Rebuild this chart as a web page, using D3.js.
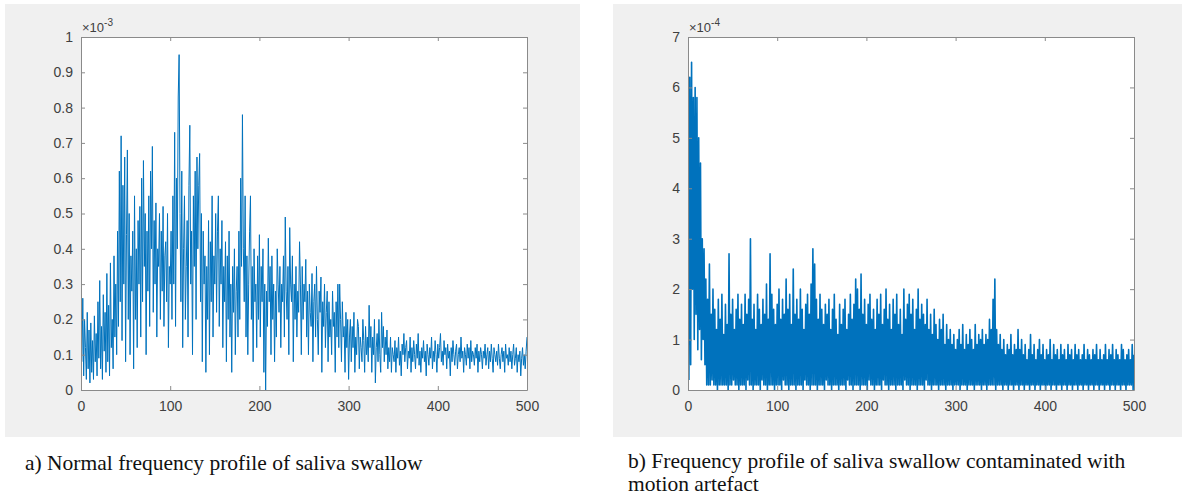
<!DOCTYPE html>
<html lang="en">
<head>
    <meta charset="utf-8">
    <title>Frequency profiles of saliva swallow</title>
    <script type="text/javascript" src="https://d3js.org/d3.v7.min.js"></script>
    <style>
        body { margin: 0; background: #ffffff; }
        svg { display: block; }
    </style>
</head>
<body>
    <script type="text/javascript">

        // x ticks shared by both plots
        var xTicks = [0, 100, 200, 300, 400, 500];

        // a) normal swallow, one value per frequency bin 1..500, in units of 1e-5
        var normalValues = [
            8,26,4,20,12,3,22,6,17,2, 19,5,14,3,21,8,16,4,25,9,
            31,6,18,3,27,11,22,5,33,8, 24,4,36,12,20,6,38,15,30,10,
            45,18,62,25,72,14,58,30,66,8, 44,68,20,50,10,38,28,45,6,55,
            20,40,12,48,30,52,15,60,25,65, 35,50,10,45,28,55,18,62,40,69,
            22,48,30,53,15,40,35,50,20,45, 28,52,18,38,42,25,50,12,35,30,
            45,20,55,30,73,18,60,40,83,95, 50,25,62,12,40,55,20,35,48,15,
            58,75,30,45,10,55,35,62,20,66, 40,58,67,25,50,8,45,30,38,5,
            35,20,48,10,42,25,55,15,38,30, 50,22,45,55,18,40,30,48,12,35,
            25,42,8,38,20,45,15,30,5,35, 22,40,10,28,35,15,45,20,60,35,
            78,40,25,55,15,38,10,30,45,55, 20,35,8,40,25,30,12,38,20,44,
            15,35,25,40,5,30,0,28,18,43, 25,35,10,38,20,30,8,28,15,40,
            30,22,35,12,30,25,38,15,49,28, 20,35,10,46,30,25,38,8,30,20,
            35,15,28,22,42,30,10,35,20,30, 25,37,15,28,10,30,22,18,33,8,
            25,30,15,35,20,10,28,22,32,5, 25,18,30,12,22,28,8,25,15,20,
            10,28,18,22,5,25,15,30,12,30, 20,8,25,15,18,5,22,12,20,3,
            15,20,8,18,12,22,5,15,10,20, 18,6,15,12,8,20,14,5,18,10,
            15,8,24,12,18,5,15,10,20,2, 12,16,8,20,10,5,22,12,18,8,
            15,10,17,6,12,8,15,5,12,10, 8,14,5,12,9,15,7,11,4,13,
            10,16,8,12,14,6,11,9,15,5, 12,8,14,10,6,13,9,16,7,11,
            5,12,9,14,8,11,4,13,10,7, 12,9,15,6,11,8,14,10,5,13,
            9,12,16,8,11,7,14,10,12,6, 13,9,11,4,12,8,14,10,7,11,
            13,6,10,12,8,15,9,11,5,12, 10,7,13,9,12,6,14,8,11,10,
            7,12,9,13,5,11,8,12,10,6, 11,9,13,7,10,12,6,11,8,13,
            9,5,12,10,8,11,7,13,9,6, 10,12,8,11,5,13,9,10,7,12,
            8,11,6,10,13,7,9,12,5,10, 8,11,4,9,12,7,10,6,11,15
        ];
        var normalYTicks = [0, 0.1, 0.2, 0.3, 0.4, 0.5, 0.6, 0.7, 0.8, 0.9, 1];

        // b) swallow with motion artefact, bins 1..500, in units of 1e-5
        var artefactValues = [
            2,62,5,65,20,58,10,60,15,58, 8,50,12,45,6,30,10,28,5,22,
            1,18,1,25,1,15,2,20,1,16, 1,12,0,18,1,14,1,19,1,11,
            1,17,1,13,0,27,1,15,1,18, 2,12,1,16,1,19,0,14,1,17,
            1,13,1,19,0,15,2,18,1,30, 1,14,0,17,1,12,1,19,1,16,
            0,13,2,18,1,15,1,21,0,14, 1,27,1,19,1,16,0,13,1,17,
            1,20,1,14,0,18,2,15,1,22, 1,16,0,19,1,13,1,24,1,15,
            0,18,1,14,1,20,1,16,0,12, 2,17,1,19,1,15,0,21,1,28,
            1,25,1,18,0,14,1,19,1,16, 1,13,0,17,2,15,1,18,1,12,
            0,16,1,19,1,14,1,11,0,17, 1,13,1,16,1,18,0,12,2,15,
            1,19,1,14,0,17,1,22,1,20, 1,16,0,23,1,15,1,18,1,13,
            0,17,2,19,1,14,1,16,0,12, 1,18,1,15,1,19,0,13,2,16,
            1,20,1,14,0,17,1,12,1,18, 1,15,0,19,1,13,1,16,1,11,
            0,20,2,14,1,17,1,19,0,15, 1,18,1,12,1,16,0,20,1,14,
            1,17,1,15,0,13,2,18,1,12, 1,15,0,11,1,16,1,13,1,10,
            0,14,1,12,1,15,1,9,0,13, 1,10,1,12,1,9,0,11,1,8,
            1,10,1,12,0,9,1,13,1,8, 1,11,0,9,1,12,1,10,1,8,
            0,13,1,9,1,11,1,10,0,12, 1,9,1,11,0,10,1,14,1,12,
            1,18,1,22,0,12,1,9,1,11, 1,8,0,10,1,7,1,9,0,8,
            1,11,1,7,0,9,1,8,1,12, 0,8,1,10,1,7,0,9,1,6,
            1,8,0,11,1,7,1,9,0,6, 1,8,1,10,0,7,1,9,1,6,
            0,8,1,7,1,10,0,6,1,9, 1,7,0,8,1,6,1,9,0,7,
            1,8,1,6,0,9,1,7,1,8, 0,6,1,9,1,7,0,8,1,6,
            1,7,0,9,1,6,1,8,0,7, 1,6,1,8,0,7,1,9,1,6,
            0,8,1,6,1,7,0,9,1,6, 1,8,0,7,1,9,1,6,0,8,
            1,7,1,6,0,9,1,8,1,6, 0,7,1,8,1,6,1,9,0,7
        ];
        var artefactYTicks = [0, 1, 2, 3, 4, 5, 6, 7];

        var captionA = ["a) Normal frequency profile of saliva swallow"];
        var captionB = ["b) Frequency profile of saliva swallow contaminated with", "motion artefact"];

        var width = 1182, height = 497;

        var svg = d3.select("body")
            .append("svg")
            .attr("width", width)
            .attr("height", height);

        function drawPanel(opts) {
            var g = svg.append("g");

            g.append("rect")
                .attr("x", opts.bg[0])
                .attr("y", opts.bg[1])
                .attr("width", opts.bg[2])
                .attr("height", opts.bg[3])
                .attr("fill", "#f0f0f0");

            // y runs in mantissa units, the exponent sits above the axis
            var x = d3.scaleLinear().domain([0, 500]).range([opts.left, opts.right]);
            var y = d3.scaleLinear().domain(opts.yDomain).range([opts.bottom, opts.top]);

            g.append("rect")
                .attr("x", opts.left)
                .attr("y", opts.top)
                .attr("width", opts.right - opts.left)
                .attr("height", opts.bottom - opts.top)
                .attr("fill", "#ffffff");

            var pts = opts.values.map(function (v, i) {
                return { f: i + 1, a: v * opts.unit };
            });
            var line = d3.line()
                .x(function (d) { return x(d.f); })
                .y(function (d) { return y(d.a); });

            g.append("path")
                .datum(pts)
                .attr("d", line)
                .attr("fill", "none")
                .attr("stroke", "#0072bd")
                .attr("stroke-width", opts.lineWidth)
                .attr("stroke-linejoin", "round");

            // matlab style axes: ticks inside, mirrored on the box
            var tickLen = 4;
            var axisColor = "#8a8a8a";
            var textColor = "#404040";

            var bottomAxis = d3.axisBottom(x).tickValues(xTicks).tickSizeInner(-tickLen).tickSizeOuter(0).tickPadding(11);
            var topAxis = d3.axisTop(x).tickValues(xTicks).tickSizeInner(-tickLen).tickSizeOuter(0).tickFormat("");
            var leftAxis = d3.axisLeft(y).tickValues(opts.yTicks).tickSizeInner(-tickLen).tickSizeOuter(0).tickPadding(8)
                .tickFormat(d3.format("~g"));
            var rightAxis = d3.axisRight(y).tickValues(opts.yTicks).tickSizeInner(-tickLen).tickSizeOuter(0).tickFormat("");

            var axes = [
                g.append("g").attr("transform", "translate(0," + opts.bottom + ")").call(bottomAxis),
                g.append("g").attr("transform", "translate(0," + opts.top + ")").call(topAxis),
                g.append("g").attr("transform", "translate(" + opts.left + ",0)").call(leftAxis),
                g.append("g").attr("transform", "translate(" + opts.right + ",0)").call(rightAxis)
            ];
            axes.forEach(function (a) {
                a.selectAll("path").attr("stroke", axisColor).attr("stroke-width", 1);
                a.selectAll("line").attr("stroke", axisColor);
                a.selectAll("text")
                    .attr("fill", textColor)
                    .attr("font-family", "Liberation Sans, Arial, sans-serif")
                    .attr("font-size", 14);
            });

            // exponent label
            var expo = g.append("text")
                .attr("x", opts.left + 1)
                .attr("y", opts.top - 5)
                .attr("fill", textColor)
                .attr("font-family", "Liberation Sans, Arial, sans-serif")
                .attr("font-size", 13);
            expo.append("tspan").text("\u00d710");
            expo.append("tspan")
                .attr("dy", -6)
                .attr("font-size", 10)
                .text(opts.exponent);

            // caption below the figure
            g.selectAll(".caption")
                .data(opts.caption)
                .enter()
                .append("text")
                .attr("class", "caption")
                .attr("x", opts.captionX)
                .attr("y", function (d, i) { return opts.captionY + i * 23; })
                .attr("fill", "#111111")
                .attr("font-family", "Liberation Serif, Times New Roman, serif")
                .attr("font-size", 21.5)
                .text(function (d) { return d; });
        }

        drawPanel({
            bg: [5, 4, 575, 433],
            left: 81, right: 527, top: 37, bottom: 390,
            yDomain: [0, 1], unit: 0.01,
            yTicks: normalYTicks,
            values: normalValues,
            lineWidth: 1,
            exponent: "-3",
            caption: captionA, captionX: 25, captionY: 470
        });

        drawPanel({
            bg: [613, 4, 569, 433],
            left: 688, right: 1134, top: 37, bottom: 390,
            yDomain: [0, 7], unit: 0.1,
            yTicks: artefactYTicks,
            values: artefactValues,
            lineWidth: 1.6,
            exponent: "-4",
            caption: captionB, captionX: 628, captionY: 468
        });

    </script>
</body>
</html>
